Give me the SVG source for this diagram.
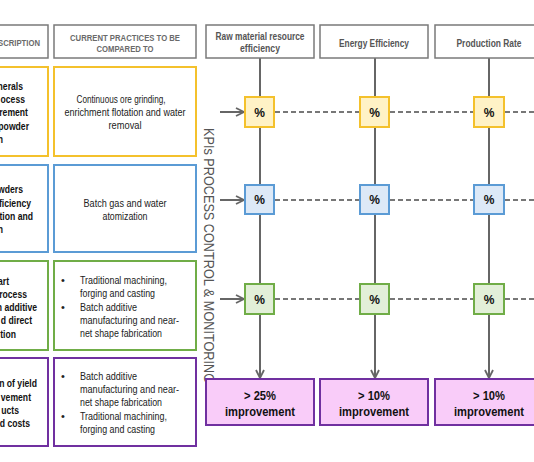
<svg xmlns="http://www.w3.org/2000/svg" width="534" height="462" viewBox="0 0 534 462">
<defs>
<style>
.t{font-family:"Liberation Sans",Arial,sans-serif}
.hd{fill:#fff;stroke:#7a7a7a;stroke-width:1.5}
.ht{font-size:9.5px;font-weight:bold;fill:#6a6a6a;text-anchor:middle}
.kh{font-size:11px;font-weight:bold;fill:#555;text-anchor:middle}
.lb{font-size:11.5px;font-weight:bold;fill:#111;text-anchor:end}
.bd{font-size:11px;fill:#222}
.bc{font-size:11px;fill:#222;text-anchor:middle}
.y{fill:#fff;stroke:#f4c12c;stroke-width:2}
.b{fill:#fff;stroke:#5b9bd5;stroke-width:2}
.g{fill:#fff;stroke:#70ad47;stroke-width:2}
.p{fill:#fff;stroke:#7030a0;stroke-width:2}
.py{fill:#fff2c6;stroke:#f4c12c;stroke-width:2}
.pb{fill:#dde9f7;stroke:#5b9bd5;stroke-width:2}
.pg{fill:#e2efd8;stroke:#70ad47;stroke-width:2}
.pk{fill:#f9ccf9;stroke:#7030a0;stroke-width:2}
.pc{font-size:12px;font-weight:bold;fill:#111;text-anchor:middle}
.rs{font-size:13.5px;font-weight:bold;fill:#111;text-anchor:middle}
.vl{stroke:#666;stroke-width:2;fill:none}
.dl{stroke:#777;stroke-width:2;stroke-dasharray:5 3;fill:none}
</style>
<marker id="ah" viewBox="0 0 10 10" refX="9" refY="5" markerWidth="10" markerHeight="10" markerUnits="userSpaceOnUse" orient="auto">
<path d="M1,1 L9,5 L1,9" fill="none" stroke="#666" stroke-width="1.8"/>
</marker>
</defs>
<rect width="534" height="462" fill="#fff"/>

<g id="connectors">
<path class="vl" d="M260,58V97M260,127V185M260,214V284"/>
<path class="vl" d="M375,58V97M375,127V185M375,214V284"/>
<path class="vl" d="M489,58V97M489,127V185M489,214V284"/>
<path class="vl" d="M260,314V378" marker-end="url(#ah)"/>
<path class="vl" d="M375,314V378" marker-end="url(#ah)"/>
<path class="vl" d="M489,314V378" marker-end="url(#ah)"/>
<path class="vl" d="M220,112H244" marker-end="url(#ah)"/>
<path class="vl" d="M220,200H244" marker-end="url(#ah)"/>
<path class="vl" d="M220,299H244" marker-end="url(#ah)"/>
<path class="dl" d="M275,112H360M390,112H474M505,112H534"/>
<path class="dl" d="M275,200H360M390,200H474M505,200H534"/>
<path class="dl" d="M275,299H360M390,299H474M505,299H534"/>
</g>

<g id="header-description">
<rect class="hd" x="-10" y="25" width="58" height="33"/>
<text class="t ht" x="40" y="45.5" style="text-anchor:end" textLength="42" lengthAdjust="spacingAndGlyphs">SCRIPTION</text>
</g>
<g id="header-practices">
<rect class="hd" x="54" y="25" width="142" height="33"/>
<text class="t ht" x="125" y="40.5" textLength="110" lengthAdjust="spacingAndGlyphs">CURRENT PRACTICES TO BE</text>
<text class="t ht" x="125" y="51.5" textLength="57" lengthAdjust="spacingAndGlyphs">COMPARED TO</text>
</g>
<g id="header-raw">
<rect class="hd" x="206" y="25" width="108" height="33"/>
<text class="t kh" x="260" y="40" textLength="89" lengthAdjust="spacingAndGlyphs">Raw material resource</text>
<text class="t kh" x="260" y="52" textLength="40" lengthAdjust="spacingAndGlyphs">efficiency</text>
</g>
<g id="header-energy">
<rect class="hd" x="320" y="25" width="108" height="33"/>
<text class="t kh" x="374" y="46.5" textLength="70" lengthAdjust="spacingAndGlyphs">Energy Efficiency</text>
</g>
<g id="header-production">
<rect class="hd" x="435" y="25" width="108" height="33"/>
<text class="t kh" x="489" y="46.5" textLength="65" lengthAdjust="spacingAndGlyphs">Production Rate</text>
</g>

<g id="desc-1">
<rect class="y" x="-10" y="67" width="58" height="89"/>
<text class="t lb" transform="translate(23 90) scale(.75 1)">nerals</text>
<text class="t lb" transform="translate(25 103) scale(.75 1)">ocess</text>
<text class="t lb" transform="translate(28 116) scale(.75 1)">rement</text>
<text class="t lb" transform="translate(29 130) scale(.75 1)">powder</text>
<text class="t lb" transform="translate(3 143) scale(.75 1)">n</text>
</g>
<g id="practice-1">
<rect class="y" x="54" y="67" width="142" height="89"/>
<text class="t bc" x="121" y="103" textLength="89" lengthAdjust="spacingAndGlyphs">Continuous ore grinding,</text>
<text class="t bc" x="125" y="116" textLength="121" lengthAdjust="spacingAndGlyphs">enrichment flotation and water</text>
<text class="t bc" x="125" y="129" textLength="33" lengthAdjust="spacingAndGlyphs">removal</text>
</g>

<g id="desc-2">
<rect class="b" x="-10" y="165" width="58" height="87"/>
<text class="t lb" transform="translate(23 193) scale(.75 1)">wders</text>
<text class="t lb" transform="translate(31 207) scale(.75 1)">ficiency</text>
<text class="t lb" transform="translate(33 220) scale(.75 1)">tion and</text>
<text class="t lb" transform="translate(3 233) scale(.75 1)">n</text>
</g>
<g id="practice-2">
<rect class="b" x="54" y="165" width="142" height="87"/>
<text class="t bc" x="125" y="207" textLength="83" lengthAdjust="spacingAndGlyphs">Batch gas and water</text>
<text class="t bc" x="125" y="220" textLength="45" lengthAdjust="spacingAndGlyphs">atomization</text>
</g>

<g id="desc-3">
<rect class="g" x="-10" y="261" width="58" height="89"/>
<text class="t lb" transform="translate(9 285) scale(.75 1)">part</text>
<text class="t lb" transform="translate(27 298) scale(.75 1)">rocess</text>
<text class="t lb" transform="translate(37 311) scale(.75 1)">n additive</text>
<text class="t lb" transform="translate(32 324) scale(.75 1)">d direct</text>
<text class="t lb" transform="translate(16 338) scale(.75 1)">tion</text>
</g>
<g id="practice-3">
<rect class="g" x="54" y="261" width="142" height="89"/>
<text class="t bd" x="61" y="284">•</text>
<text class="t bd" x="80" y="284" textLength="87" lengthAdjust="spacingAndGlyphs">Traditional machining,</text>
<text class="t bd" x="80" y="297" textLength="75" lengthAdjust="spacingAndGlyphs">forging and casting</text>
<text class="t bd" x="61" y="311">•</text>
<text class="t bd" x="80" y="311" textLength="57" lengthAdjust="spacingAndGlyphs">Batch additive</text>
<text class="t bd" x="80" y="324" textLength="99" lengthAdjust="spacingAndGlyphs">manufacturing and near-</text>
<text class="t bd" x="80" y="337" textLength="82" lengthAdjust="spacingAndGlyphs">net shape fabrication</text>
</g>

<g id="desc-4">
<rect class="p" x="-10" y="358" width="58" height="88"/>
<text class="t lb" transform="translate(37 387) scale(.75 1)">n of yield</text>
<text class="t lb" transform="translate(31 401) scale(.75 1)">vement</text>
<text class="t lb" transform="translate(19 414) scale(.75 1)">ucts</text>
<text class="t lb" transform="translate(30 427) scale(.75 1)">d costs</text>
</g>
<g id="practice-4">
<rect class="p" x="54" y="358" width="142" height="88"/>
<text class="t bd" x="61" y="380">•</text>
<text class="t bd" x="80" y="380" textLength="57" lengthAdjust="spacingAndGlyphs">Batch additive</text>
<text class="t bd" x="80" y="393" textLength="99" lengthAdjust="spacingAndGlyphs">manufacturing and near-</text>
<text class="t bd" x="80" y="406" textLength="82" lengthAdjust="spacingAndGlyphs">net shape fabrication</text>
<text class="t bd" x="61" y="420">•</text>
<text class="t bd" x="80" y="420" textLength="87" lengthAdjust="spacingAndGlyphs">Traditional machining,</text>
<text class="t bd" x="80" y="433" textLength="75" lengthAdjust="spacingAndGlyphs">forging and casting</text>
</g>

<g id="kpi-label">
<text class="t" transform="translate(204,128) rotate(90)" x="0" y="0" font-size="14" fill="#555" textLength="255" lengthAdjust="spacingAndGlyphs">KPIs PROCESS CONTROL &amp; MONITORING</text>
</g>

<g id="kpi-raw-1"><rect class="py" x="245" y="97" width="29" height="30"/><text class="t pc" x="259.5" y="116.5">%</text></g>
<g id="kpi-energy-1"><rect class="py" x="360" y="97" width="29" height="30"/><text class="t pc" x="374.5" y="116.5">%</text></g>
<g id="kpi-prod-1"><rect class="py" x="474" y="97" width="30" height="30"/><text class="t pc" x="489" y="116.5">%</text></g>
<g id="kpi-raw-2"><rect class="pb" x="245" y="185" width="29" height="29"/><text class="t pc" x="259.5" y="204">%</text></g>
<g id="kpi-energy-2"><rect class="pb" x="360" y="185" width="29" height="29"/><text class="t pc" x="374.5" y="204">%</text></g>
<g id="kpi-prod-2"><rect class="pb" x="474" y="185" width="30" height="29"/><text class="t pc" x="489" y="204">%</text></g>
<g id="kpi-raw-3"><rect class="pg" x="245" y="284" width="29" height="30"/><text class="t pc" x="259.5" y="303.5">%</text></g>
<g id="kpi-energy-3"><rect class="pg" x="360" y="284" width="29" height="30"/><text class="t pc" x="374.5" y="303.5">%</text></g>
<g id="kpi-prod-3"><rect class="pg" x="474" y="284" width="30" height="30"/><text class="t pc" x="489" y="303.5">%</text></g>

<g id="result-raw"><rect class="pk" x="206" y="379" width="108" height="46"/><text class="t rs" x="260" y="400" textLength="32" lengthAdjust="spacingAndGlyphs">&gt; 25%</text><text class="t rs" x="260" y="416" textLength="70" lengthAdjust="spacingAndGlyphs">improvement</text></g>
<g id="result-energy"><rect class="pk" x="320" y="379" width="108" height="46"/><text class="t rs" x="374" y="400" textLength="32" lengthAdjust="spacingAndGlyphs">&gt; 10%</text><text class="t rs" x="374" y="416" textLength="70" lengthAdjust="spacingAndGlyphs">improvement</text></g>
<g id="result-prod"><rect class="pk" x="435" y="379" width="108" height="46"/><text class="t rs" x="489" y="400" textLength="32" lengthAdjust="spacingAndGlyphs">&gt; 10%</text><text class="t rs" x="489" y="416" textLength="70" lengthAdjust="spacingAndGlyphs">improvement</text></g>
</svg>
